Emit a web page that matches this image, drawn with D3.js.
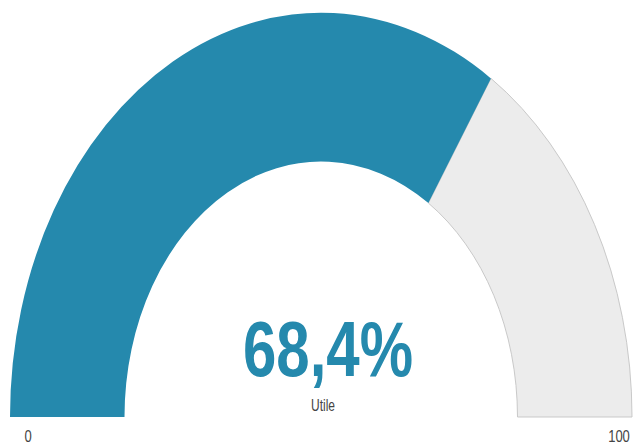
<!DOCTYPE html>
<html>
<head>
<meta charset="utf-8">
<script src="https://cdn.jsdelivr.net/npm/d3@7"></script>
<style>
  html, body { margin: 0; padding: 0; background: #fff; }
  svg { display: block; }
</style>
</head>
<body>
<svg id="chart" width="635" height="445"></svg>
<script>
const gaugeMin = 0;
const gaugeMax = 100;
const gaugeValue = [68.4];
const valueLabels = ["68,4%"];
const seriesName = ["Utile"];
const tickLabels = ["0", "100"];

const svg = d3.select("#chart");
const cx = 321, cy = 417, sy = 1.3;
const outerR = 311, innerR = 196.5;

const angle = d3.scaleLinear().domain([gaugeMin, gaugeMax]).range([-Math.PI / 2, Math.PI / 2]);

const g = svg.append("g").attr("transform", `translate(${cx},${cy}) scale(1,${sy})`);
const arc = d3.arc().innerRadius(innerR).outerRadius(outerR);

// background (remaining)
g.append("path")
  .attr("d", arc({ startAngle: angle(gaugeValue[0]), endAngle: angle(gaugeMax) }))
  .attr("fill", "#ececec")
  .attr("stroke", "#c9c9c9")
  .attr("stroke-width", 1)
  .attr("vector-effect", "non-scaling-stroke");

// value arc
g.append("path")
  .attr("d", arc({ startAngle: angle(gaugeMin), endAngle: angle(gaugeValue[0]) }))
  .attr("fill", "#2589ad");

// value text
g.append("text")
  .attr("x", 7)
  .attr("y", (376 - cy) / sy)
  .attr("text-anchor", "middle")
  .attr("font-family", "Liberation Sans, Arial, sans-serif")
  .attr("font-weight", "bold")
  .attr("font-size", 60)
  .attr("fill", "#2589ad")
  .text(valueLabels[0]);

g.append("text")
  .attr("x", 2)
  .attr("y", (411 - cy) / sy)
  .attr("text-anchor", "middle")
  .attr("font-family", "Liberation Sans, Arial, sans-serif")
  .attr("font-size", 12)
  .attr("fill", "#444")
  .text(seriesName[0]);

// min/max labels
const tickX = [28 - cx, 619 - cx];
g.selectAll("text.tick")
  .data(tickLabels)
  .enter().append("text")
  .attr("class", "tick")
  .attr("x", (d, i) => tickX[i])
  .attr("y", (442 - cy) / sy)
  .attr("text-anchor", "middle")
  .attr("font-family", "Liberation Sans, Arial, sans-serif")
  .attr("font-size", 13)
  .attr("fill", "#444")
  .text(d => d);
</script>
</body>
</html>
